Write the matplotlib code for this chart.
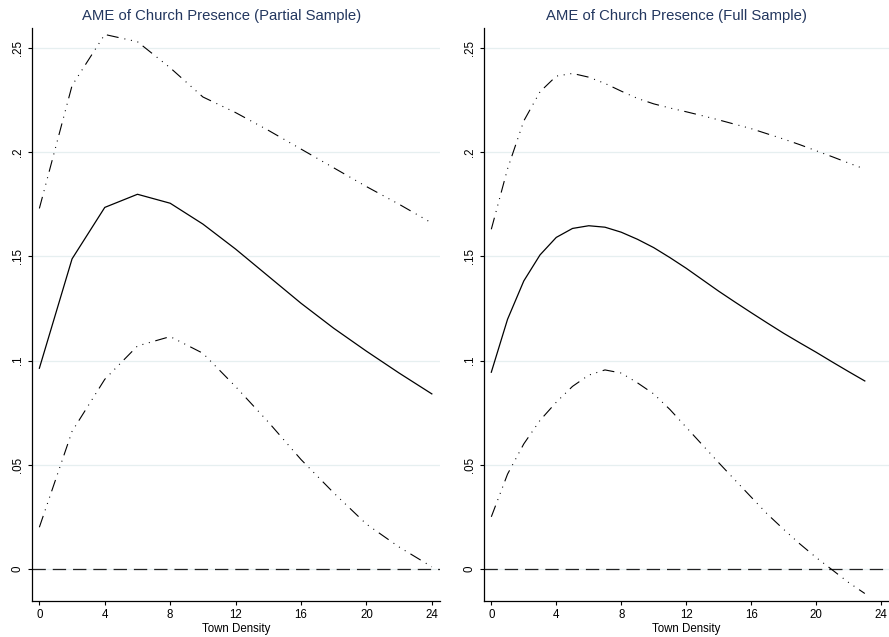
import matplotlib
matplotlib.use("Agg")
import matplotlib.pyplot as plt

# ---------------- data ----------------
titles = ["AME of Church Presence (Partial Sample)", "AME of Church Presence (Full Sample)"]
xlabel = "Town Density"

# Partial sample (every 2 units)
x_partial = [0, 2, 4, 6, 8, 10, 12, 14, 16, 18, 20, 22, 24]
ame_partial = [0.0963, 0.1488, 0.1735, 0.1798, 0.1755, 0.1655, 0.1535, 0.1405, 0.1275, 0.1155, 0.1045, 0.0940, 0.0840]
upper_partial = [0.173, 0.232, 0.2565, 0.253, 0.2405, 0.2265, 0.219, 0.2105, 0.2015, 0.1925, 0.1835, 0.175, 0.166]
lower_partial = [0.020, 0.066, 0.091, 0.107, 0.1115, 0.1035, 0.0875, 0.0705, 0.0525, 0.0365, 0.0215, 0.0105, 0.001]

# Full sample (every unit)
x_full = list(range(0, 24))
ame_full = [0.0944, 0.1198, 0.1382, 0.1507, 0.1591, 0.1634, 0.1647, 0.1640, 0.1616, 0.1582,
            0.1542, 0.1494, 0.1443, 0.1388, 0.1333, 0.1281, 0.1230, 0.1180, 0.1131, 0.1085,
            0.1040, 0.0993, 0.0947, 0.0902]
upper_full = [0.163, 0.192, 0.215, 0.229, 0.2365, 0.2378, 0.236, 0.233, 0.2293, 0.2258,
              0.2232, 0.2212, 0.2194, 0.2175, 0.2155, 0.2134, 0.2113, 0.2088, 0.2063, 0.2036,
              0.2007, 0.1978, 0.1948, 0.1919]
lower_full = [0.025, 0.0455, 0.0600, 0.0713, 0.0800, 0.0876, 0.0930, 0.0955, 0.0940, 0.0893,
              0.0840, 0.0765, 0.0680, 0.0595, 0.0510, 0.0427, 0.0345, 0.0263, 0.0190, 0.0120,
              0.0055, -0.0005, -0.0065, -0.0118]

ref_value = 0.0
yticks = [0, 0.05, 0.10, 0.15, 0.20, 0.25]
ytick_labels = ["0", ".05", ".1", ".15", ".2", ".25"]
xticks = [0, 4, 8, 12, 16, 20, 24]
xtick_labels = ["0", "4", "8", "12", "16", "20", "24"]

# ---------------- style ----------------
plt.rcParams['font.family'] = ['Liberation Sans', 'DejaVu Sans']
plt.rcParams['lines.scale_dashes'] = False

W, H = 889, 637
fig = plt.figure(figsize=(W / 100, H / 100), dpi=100)

title_color = "#23375f"
grid_color = "#e6eff0"
ci_dashes = (8.6, 4.3, 0.72, 4.1, 0.72, 4.1, 0.72, 4.1)
ref_dashes = (9.6, 5.0)

panels = [
    dict(left=32, width=408, xmax=24.5, title_cx=222, x=x_partial, m=ame_partial, u=upper_partial, l=lower_partial),
    dict(left=484, width=405, xmax=24.49, title_cx=676, x=x_full, m=ame_full, u=upper_full, l=lower_full),
]

ax_bottom_px, ax_top_px = 601, 28

for p, title in zip(panels, titles):
    ax = fig.add_axes([p['left'] / W, 1 - ax_bottom_px / H, p['width'] / W,
                       (ax_bottom_px - ax_top_px) / H])
    ax.set_xlim(-0.45, p['xmax'])
    ax.set_ylim(-0.0154, 0.2596)

    for yv in yticks:
        ax.axhline(yv, color=grid_color, lw=0.9, zorder=0)
    ax.axhline(ref_value, color="#222222", lw=0.9, dashes=ref_dashes, zorder=1)

    ax.plot(p['x'], p['u'], color="black", lw=0.8, dashes=ci_dashes, zorder=2)
    ax.plot(p['x'], p['l'], color="black", lw=0.8, dashes=ci_dashes, zorder=2)
    ax.plot(p['x'], p['m'], color="black", lw=0.9, zorder=3)

    ax.set_yticks(yticks)
    ax.set_yticklabels(ytick_labels, rotation=90, va="center", fontsize=8.3)
    ax.set_xticks(xticks)
    ax.set_xticklabels(xtick_labels, fontsize=8.3)
    ax.tick_params(axis='y', length=3, width=0.8, pad=3)
    ax.tick_params(axis='x', length=3, width=0.8, pad=2.5)

    for s in ['top', 'right']:
        ax.spines[s].set_visible(False)
    for s in ['left', 'bottom']:
        ax.spines[s].set_linewidth(0.9)
        ax.spines[s].set_color("black")

    ax.set_xlabel(xlabel, fontsize=8.3, labelpad=2)
    fig.text(p['title_cx'] / W, 1 - 16 / H, title, ha="center", va="center",
             fontsize=10.7, color=title_color)

fig.savefig("out.png", dpi=100, facecolor="white")
